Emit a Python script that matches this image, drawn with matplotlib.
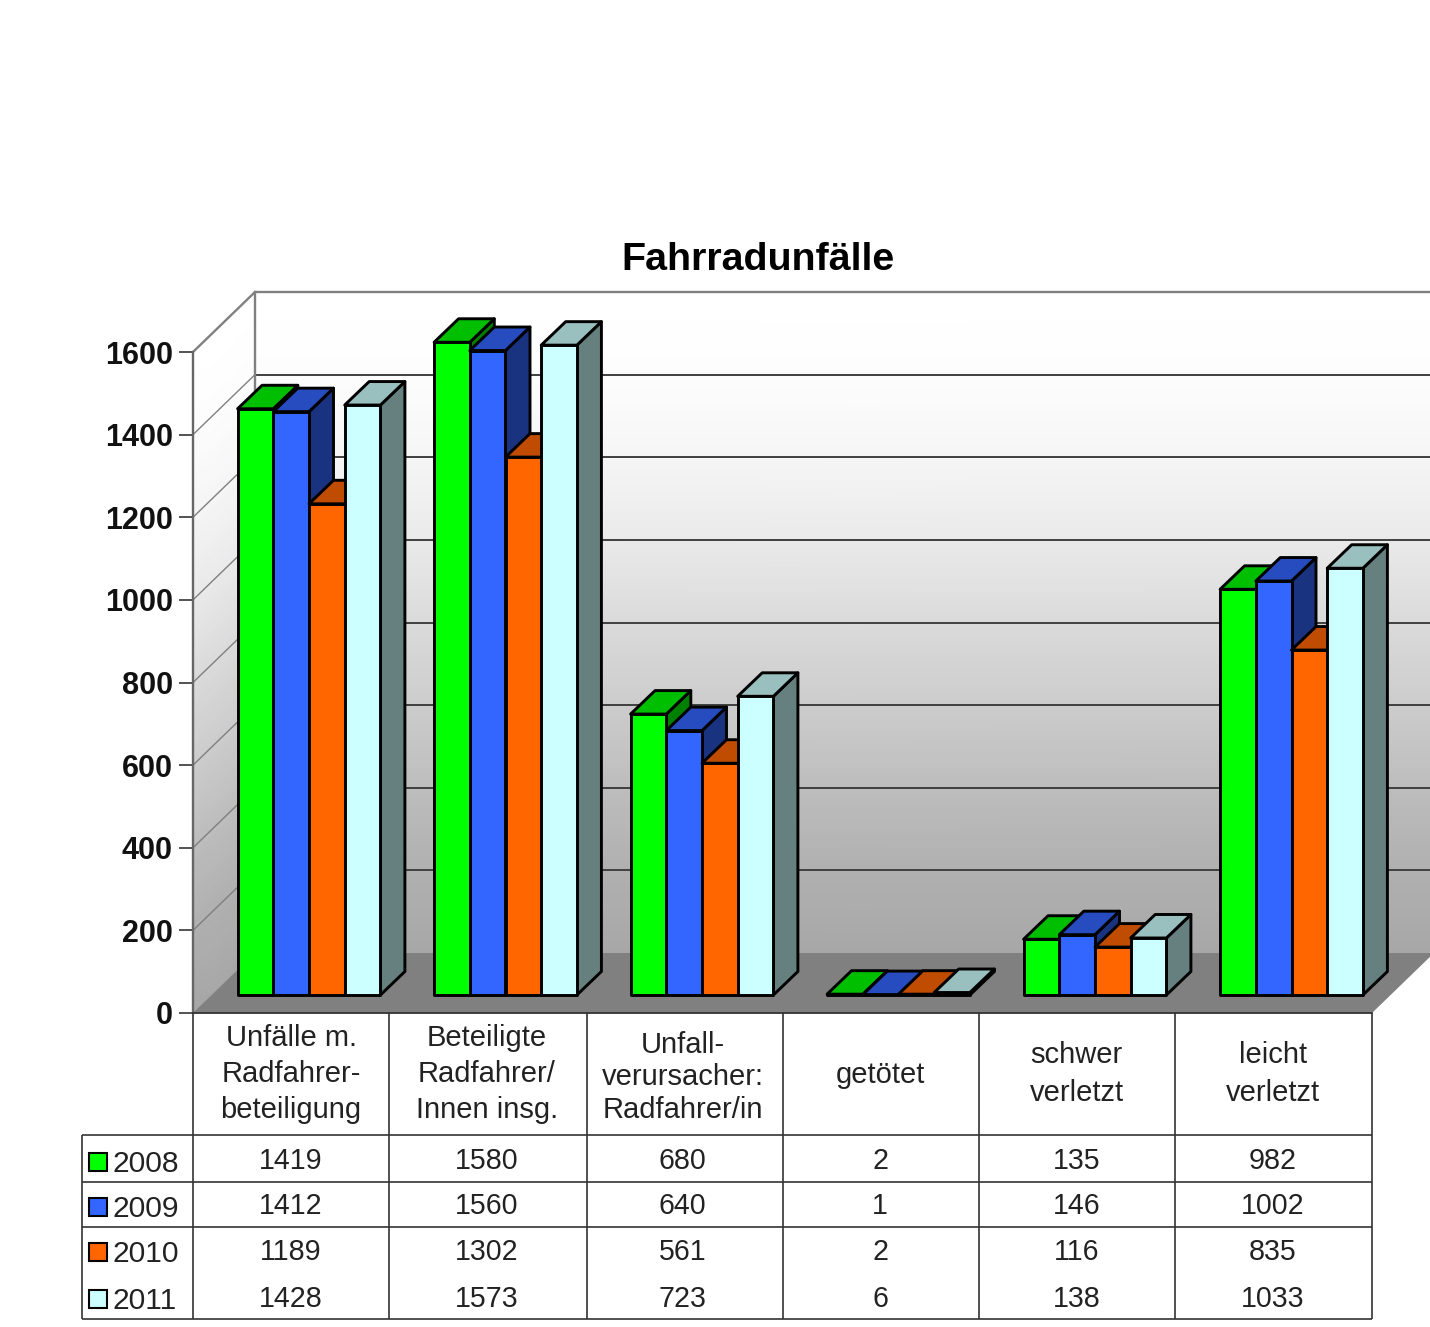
import numpy as np
import matplotlib
matplotlib.use("Agg")
import matplotlib.pyplot as plt
from matplotlib.patches import Polygon, Rectangle

plt.rcParams['font.family'] = ['Liberation Sans', 'DejaVu Sans']

# ---- data ----
years = ['2008', '2009', '2010', '2011']
categories = [
    ['Unfälle m.', 'Radfahrer-', 'beteiligung'],
    ['Beteiligte', 'Radfahrer/', 'Innen insg.'],
    ['Unfall-', 'verursacher:', 'Radfahrer/in'],
    ['getötet'],
    ['schwer', 'verletzt'],
    ['leicht', 'verletzt'],
]
values_2008 = [1419, 1580, 680, 2, 135, 982]
values_2009 = [1412, 1560, 640, 1, 146, 1002]
values_2010 = [1189, 1302, 561, 2, 116, 835]
values_2011 = [1428, 1573, 723, 6, 138, 1033]
yticks = [0, 200, 400, 600, 800, 1000, 1200, 1400, 1600]

series = [values_2008, values_2009, values_2010, values_2011]
front_colors = ['#00ff00', '#3366ff', '#ff6600', '#ccffff']
top_colors = ['#00bf00', '#264cbf', '#bf4c00', '#99bfbf']
side_colors = ['#008000', '#1a3380', '#803300', '#668080']

W, H = 1430, 1327
fig = plt.figure(figsize=(W / 100, H / 100), dpi=100, facecolor='white')

# plot region: x in category units, y in value units
left, right, y_zero, y_top = 193, 1372, 1013, 352
ax = fig.add_axes([left / W, (H - y_zero) / H, (right - left) / W, (y_zero - y_top) / H])
ax.set_xlim(0, 6)
ax.set_ylim(0, 1600)
ax.patch.set_visible(False)
for s in ax.spines.values():
    s.set_visible(False)

px_x = (right - left) / 6      # pixels per category
px_y = (y_zero - y_top) / 1600  # pixels per value unit

# oblique projection: full depth of the chart box
DX = 62 / px_x
DY = 60 / px_y


def proj(x, v, d):
    return x + d * DX, v + d * DY


# wall shading: mid grey at the floor, fading to white near the top
shade_levels = [0, 200, 400, 600, 800, 1000, 1200, 1400, 1600]
shade_grays = [0.655, 0.69, 0.74, 0.80, 0.855, 0.915, 0.96, 0.99, 1.0]
vals = np.linspace(0, 1600, 81)
g = np.interp(vals, shade_levels, shade_grays)
shade = np.column_stack([g, g])

xb0, _ = proj(0, 0, 1)
xb1, _ = proj(6, 0, 1)
Xb = np.column_stack([np.full_like(vals, xb0), np.full_like(vals, xb1)])
Yb = np.column_stack([vals + DY, vals + DY])
ax.pcolormesh(Xb, Yb, shade, shading='gouraud', cmap='gray', vmin=0, vmax=1,
              zorder=1, clip_on=False)
Xl = np.column_stack([np.zeros_like(vals), np.full_like(vals, DX)])
Yl = np.column_stack([vals, vals + DY])
ax.pcolormesh(Xl, Yl, shade, shading='gouraud', cmap='gray', vmin=0, vmax=1,
              zorder=1, clip_on=False)

# gridlines across both walls
for v in yticks[1:-1]:
    ax.plot(*zip(proj(0, v, 0), proj(0, v, 1)), color='#808080', lw=1.0, zorder=2,
            clip_on=False)
    ax.plot(*zip(proj(0, v, 1), proj(6, v, 1)), color='#404040', lw=1.4, zorder=2,
            clip_on=False)

# frame of the walls
frame = dict(color='#808080', lw=1.7, zorder=2, clip_on=False, solid_joinstyle='miter')
ax.plot(*zip(proj(0, 1600, 0), proj(0, 1600, 1), proj(6, 1600, 1)), **frame)
ax.plot(*zip(proj(0, 0, 1), proj(0, 1600, 1)), **frame)
ax.plot([0, 0], [0, 1600], color='#666666', lw=1.7, zorder=2.5, clip_on=False)

# floor
ax.add_patch(Polygon([proj(0, 0, 0), proj(6, 0, 0), proj(6, 0, 1), proj(0, 0, 1)],
                     closed=True, facecolor='#808080', edgecolor='none', zorder=3,
                     clip_on=False))
ax.plot([0, 6], [0, 0], color='#333333', lw=1.3, zorder=3.5, clip_on=False)

# 3D bars, painted from left to right
bar_w = 35.7 / px_x
bar_start = 44.6 / px_x
base_v = 18 / px_y
side_dx = 24.5 / px_x
side_dy = 23.5 / px_y
edge = dict(edgecolor='black', linewidth=2.1, joinstyle='round', clip_on=False)
z = 4.0
for c in range(len(categories)):
    for k, vals_k in enumerate(series):
        x0 = c + bar_start + k * bar_w
        x1 = x0 + bar_w
        v = vals_k[c]
        ax.add_patch(Polygon([(x1, base_v), (x1 + side_dx, base_v + side_dy),
                              (x1 + side_dx, base_v + v + side_dy), (x1, base_v + v)],
                             closed=True, facecolor=side_colors[k], zorder=z, **edge))
        ax.add_patch(Polygon([(x0, base_v + v), (x1, base_v + v),
                              (x1 + side_dx, base_v + v + side_dy),
                              (x0 + side_dx, base_v + v + side_dy)],
                             closed=True, facecolor=top_colors[k], zorder=z + 0.1, **edge))
        ax.bar(x0, v, width=bar_w, bottom=base_v, align='edge', color=front_colors[k],
               zorder=z + 0.2, **edge)
        z += 0.5

ax.set_xlim(0, 6)
ax.set_ylim(0, 1600)
ax.set_xticks([])
ax.set_yticks(yticks)
ax.tick_params(axis='y', length=10, width=1.3, color='#444444', pad=4.5)
for lab in ax.get_yticklabels():
    lab.set_fontsize(22)
    lab.set_fontweight('bold')
    lab.set_color('#111111')

# overlay in pixel units for the title and data table
ov = fig.add_axes([0, 0, 1, 1], zorder=5)
ov.set_xlim(0, W)
ov.set_ylim(H, 0)
ov.axis('off')

ov.text(758, 270, 'Fahrradunfälle', ha='center', va='baseline', fontsize=28.4,
        fontweight='bold', color='black')

col_x = [193, 389, 587, 783, 979, 1175, 1372]
label_cx = [291, 487, 682.5, 880, 1076.5, 1273]
row_lines = [1135, 1182, 1227]
line = dict(color='#333333', lw=1.2, solid_capstyle='butt')
for x in col_x:
    ov.plot([x, x], [1013, 1319], **line)
ov.plot([82, 82], [1135, 1319], **line)
for y in row_lines:
    ov.plot([82, 1372], [y, y], **line)
ov.plot([82, 1372], [1319, 1319], **line)

label_baselines = [
    [1046, 1082, 1118],
    [1046, 1082, 1118],
    [1053, 1085, 1118],
    [1083],
    [1063, 1101],
    [1063, 1101],
]
text_color = '#222222'
for c, lines in enumerate(categories):
    for txt, yb in zip(lines, label_baselines[c]):
        ov.text(label_cx[c], yb, txt, ha='center', va='baseline', fontsize=21, color=text_color)

row_baselines = [1169, 1214, 1260, 1307]
legend_baselines = [1172, 1217, 1262, 1309]
for k, vals_k in enumerate(series):
    for c, v in enumerate(vals_k):
        ov.text(label_cx[c], row_baselines[k], str(v), ha='center', va='baseline',
                fontsize=20.6, color=text_color)
    yb = legend_baselines[k]
    ov.add_patch(Rectangle((89, yb - 19), 18, 18, facecolor=front_colors[k],
                           edgecolor='black', linewidth=1.5))
    ov.text(113, yb, years[k], ha='left', va='baseline', fontsize=21.6, color=text_color)

fig.savefig('out.png', dpi=100, facecolor='white')
